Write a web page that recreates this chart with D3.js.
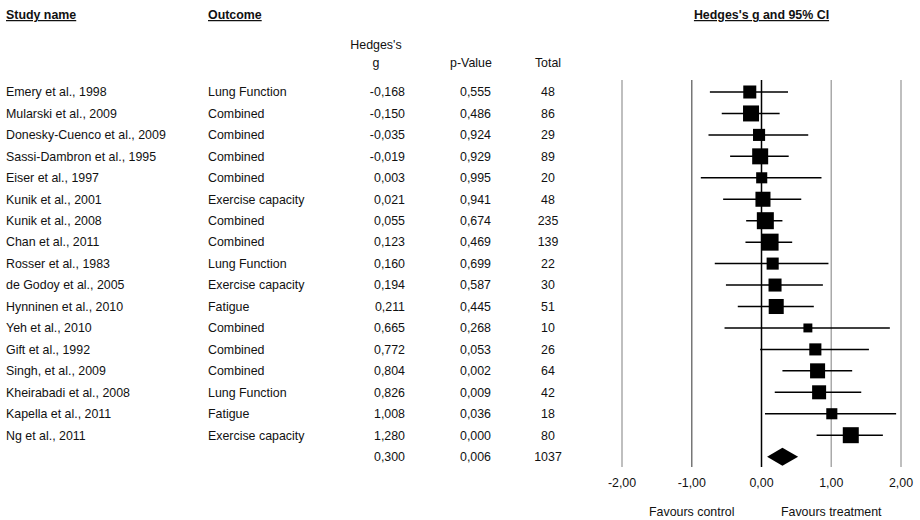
<!DOCTYPE html>
<html>
<head>
<meta charset="utf-8">
<script src="https://cdn.jsdelivr.net/npm/d3@7"></script>
<style>
body { margin: 0; background-color: white; }
text { font-family: "Liberation Sans", Arial, sans-serif; font-size: 12.4px; fill: #111; }
.head { font-weight: bold; text-decoration: underline; }
</style>
</head>
<body>
<svg id="chart"></svg>
</body>
<script>
var studies = ["Emery et al., 1998", "Mularski et al., 2009", "Donesky-Cuenco et al., 2009",
  "Sassi-Dambron et al., 1995", "Eiser et al., 1997", "Kunik et al., 2001", "Kunik et al., 2008",
  "Chan et al., 2011", "Rosser et al., 1983", "de Godoy et al., 2005", "Hynninen et al., 2010",
  "Yeh et al., 2010", "Gift et al., 1992", "Singh, et al., 2009", "Kheirabadi et al., 2008",
  "Kapella et al., 2011", "Ng et al., 2011"];
var outcomes = ["Lung Function", "Combined", "Combined", "Combined", "Combined", "Exercise capacity",
  "Combined", "Combined", "Lung Function", "Exercise capacity", "Fatigue", "Combined", "Combined",
  "Combined", "Lung Function", "Fatigue", "Exercise capacity"];
var hedgesG = [-0.168, -0.150, -0.035, -0.019, 0.003, 0.021, 0.055, 0.123, 0.160, 0.194, 0.211,
  0.665, 0.772, 0.804, 0.826, 1.008, 1.280];
var pValues = [0.555, 0.486, 0.924, 0.929, 0.995, 0.941, 0.674, 0.469, 0.699, 0.587, 0.445,
  0.268, 0.053, 0.002, 0.009, 0.036, 0.000];
var totals = [48, 86, 29, 89, 20, 48, 235, 139, 22, 30, 51, 10, 26, 64, 42, 18, 80];
var lowerCI = [-0.74, -0.57, -0.76, -0.45, -0.87, -0.55, -0.22, -0.23, -0.67, -0.51, -0.34,
  -0.53, -0.02, 0.30, 0.19, 0.05, 0.79];
var upperCI = [0.38, 0.26, 0.67, 0.39, 0.86, 0.57, 0.30, 0.44, 0.96, 0.88, 0.75,
  1.84, 1.54, 1.30, 1.43, 1.93, 1.74];
var weights = [5.1, 7.7, 4.4, 7.7, 3.7, 6.8, 8.7, 8.7, 4.4, 5.1, 6.8, 2.4, 4.4, 6.8, 5.9, 3.7, 7.7];
var summaryG = 0.300, summaryP = 0.006, summaryTotal = 1037;
var summaryLower = 0.08, summaryUpper = 0.525;
var ticks = [-2, -1, 0, 1, 2];

var width = 920, height = 520;
var svg = d3.select("#chart").attr("width", width).attr("height", height);

var loc = d3.formatLocale({decimal: ",", thousands: ".", grouping: [3], currency: ["", ""], minus: "-"});
var f3 = loc.format(".3f"), f2 = loc.format(".2f");

var x = d3.scaleLinear().domain([-2, 2]).range([622, 901]);
var y = d3.scaleLinear().domain([0, studies.length]).range([92, 92 + 21.45 * studies.length]);
var size = d3.scaleSqrt().domain([0, d3.max(weights)]).range([0, 17]);

// headers
svg.append("text").attr("class", "head").attr("x", 6).attr("y", 19).text("Study name");
svg.append("text").attr("class", "head").attr("x", 208).attr("y", 19).text("Outcome");
svg.append("text").attr("class", "head").attr("x", x(0)).attr("y", 19)
  .attr("text-anchor", "middle").text("Hedges's g and 95% CI");
svg.append("text").attr("x", 376).attr("y", 49).attr("text-anchor", "middle").text("Hedges's");
svg.append("text").attr("x", 376).attr("y", 67).attr("text-anchor", "middle").text("g");
svg.append("text").attr("x", 471).attr("y", 67).attr("text-anchor", "middle").text("p-Value");
svg.append("text").attr("x", 548).attr("y", 67).attr("text-anchor", "middle").text("Total");

// table rows
var rows = svg.append("g").selectAll("g").data(studies).join("g")
  .attr("transform", (d, i) => "translate(0," + y(i) + ")");
rows.append("text").attr("x", 6).attr("dy", "0.35em").text(d => d);
rows.append("text").attr("x", 208).attr("dy", "0.35em").text((d, i) => outcomes[i]);
rows.append("text").attr("x", 405).attr("dy", "0.35em").attr("text-anchor", "end").text((d, i) => f3(hedgesG[i]));
rows.append("text").attr("x", 491).attr("dy", "0.35em").attr("text-anchor", "end").text((d, i) => f3(pValues[i]));
rows.append("text").attr("x", 548).attr("dy", "0.35em").attr("text-anchor", "middle").text((d, i) => totals[i]);

var ys = y(studies.length);
svg.append("text").attr("x", 405).attr("y", ys).attr("dy", "0.35em").attr("text-anchor", "end").text(f3(summaryG));
svg.append("text").attr("x", 491).attr("y", ys).attr("dy", "0.35em").attr("text-anchor", "end").text(f3(summaryP));
svg.append("text").attr("x", 548).attr("y", ys).attr("dy", "0.35em").attr("text-anchor", "middle").text(summaryTotal);

// vertical reference lines
var lineTop = 80, lineBottom = 467;
svg.append("g").selectAll("line").data(ticks).join("line")
  .attr("x1", d => x(d)).attr("x2", d => x(d))
  .attr("y1", lineTop).attr("y2", lineBottom)
  .attr("stroke", d => d === 0 ? "#000" : (d === -1 ? "#777" : "#aaa"))
  .attr("stroke-width", 1.5);

svg.append("g").selectAll("text").data(ticks).join("text")
  .attr("x", d => x(d)).attr("y", 487).attr("text-anchor", "middle").text(d => f2(d));

svg.append("text").attr("x", x(-1)).attr("y", 516).attr("text-anchor", "middle").text("Favours control");
svg.append("text").attr("x", x(1)).attr("y", 516).attr("text-anchor", "middle").text("Favours treatment");

// CIs and squares
var marks = svg.append("g").selectAll("g").data(hedgesG).join("g");
marks.append("line")
  .attr("x1", (d, i) => x(lowerCI[i])).attr("x2", (d, i) => x(upperCI[i]))
  .attr("y1", (d, i) => y(i)).attr("y2", (d, i) => y(i))
  .attr("stroke", "#000").attr("stroke-width", 1.5);
marks.append("rect")
  .attr("x", (d, i) => x(d) - size(weights[i]) / 2)
  .attr("y", (d, i) => y(i) - size(weights[i]) / 2)
  .attr("width", (d, i) => size(weights[i]))
  .attr("height", (d, i) => size(weights[i]))
  .attr("fill", "#000");

// summary diamond
var dh = 9;
svg.append("path")
  .attr("d", "M" + x(summaryLower) + "," + ys + "L" + x(summaryG) + "," + (ys - dh) +
    "L" + x(summaryUpper) + "," + ys + "L" + x(summaryG) + "," + (ys + dh) + "Z")
  .attr("fill", "#000");
</script>
</html>
